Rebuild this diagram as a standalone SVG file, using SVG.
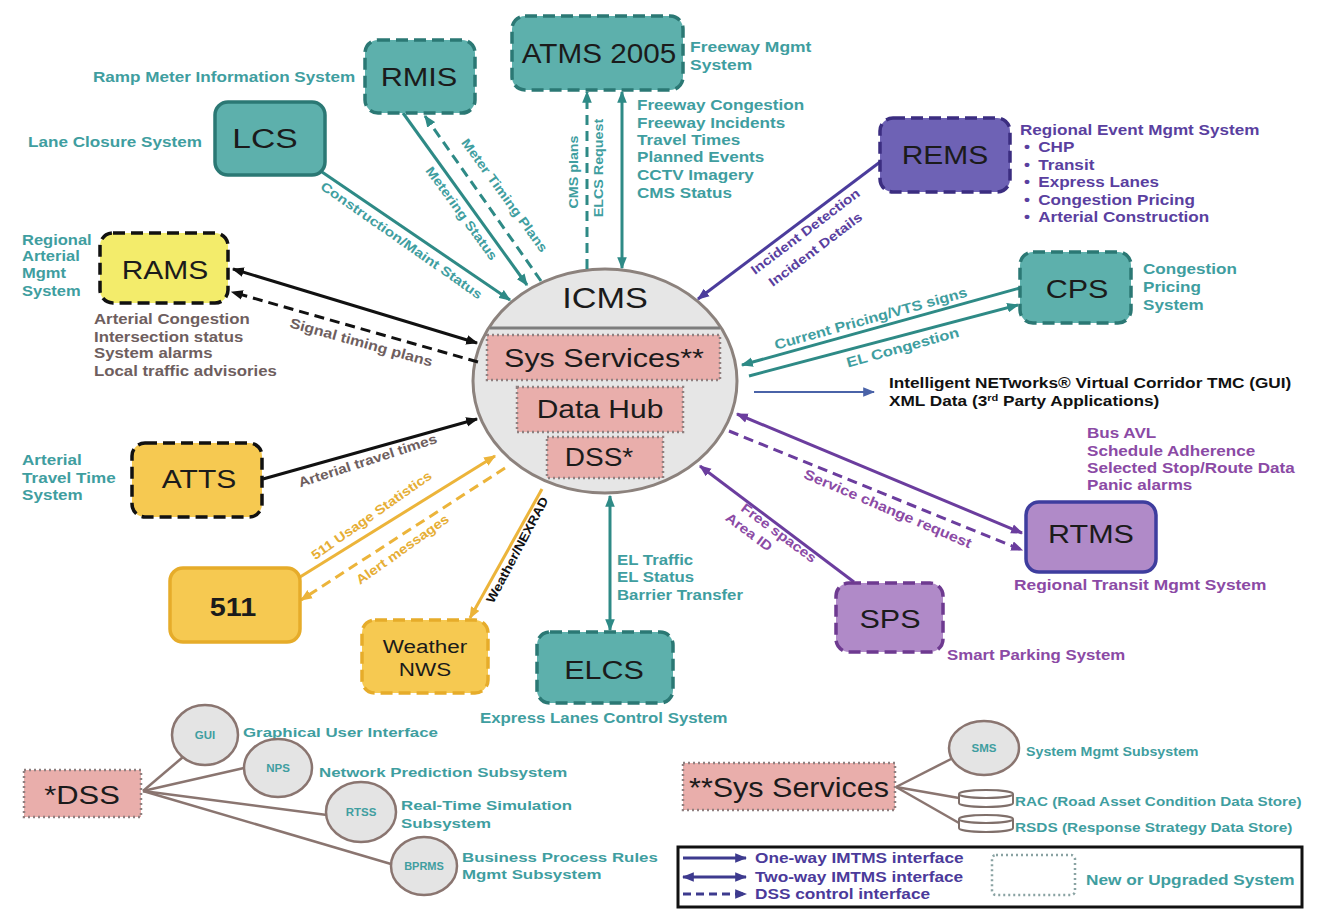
<svg xmlns="http://www.w3.org/2000/svg" width="1322" height="909" viewBox="0 0 1322 909">
  <style>
    text { font-family: "Liberation Sans", Arial, sans-serif; }
    .b { font-weight: bold; }
    .nt { fill: #1b1b1b; text-anchor: middle; }
    .teal { fill: #3f9ea0; }
    .rems { fill: #5a3f9f; }
    .vio { fill: #8b4aa5; }
    .gray { fill: #6e5e5e; }
    .ora { fill: #e6ae35; }
    .blk { fill: #111; }
    .mid { text-anchor: middle; }
    .tealbox { fill: #5db0ac; stroke: #2b7874; stroke-width: 3.5; }
    .remsbox { fill: #6e62b5; stroke: #3b2d80; stroke-width: 3.5; }
    .viobox { fill: #b08ac8; stroke-width: 3.5; }
    .ramsbox { fill: #f3ec6b; stroke: #111; stroke-width: 3.5; }
    .orabox { fill: #f6c951; stroke-width: 3.5; }
    .pink { fill: #e9aeab; stroke: #8f8080; stroke-width: 2.5; stroke-dasharray: 2 3; }
    .dash { stroke-dasharray: 12 6; }
    .sub { fill: #e4e4e4; stroke: #8a7570; stroke-width: 2.5; }
    .c { fill: none; stroke-width: 3; }
    .ct { stroke: #2e8a86; }
    .cr { stroke: #4b3c9c; }
    .cv { stroke: #6b3d9e; }
    .ck { stroke: #111; }
    .co { stroke: #ecb43a; }
    .cd { stroke-dasharray: 10 6; }
    .tree { stroke: #8a7570; stroke-width: 2.5; fill: none; }
  </style>
  <defs>
    <marker id="aT" viewBox="0 0 10 8" refX="9" refY="4" markerWidth="12" markerHeight="10" markerUnits="userSpaceOnUse" orient="auto-start-reverse"><path d="M0,0 L10,4 L0,8 z" fill="#2e8a86"/></marker>
    <marker id="aR" viewBox="0 0 10 8" refX="9" refY="4" markerWidth="12" markerHeight="10" markerUnits="userSpaceOnUse" orient="auto-start-reverse"><path d="M0,0 L10,4 L0,8 z" fill="#4b3c9c"/></marker>
    <marker id="aV" viewBox="0 0 10 8" refX="9" refY="4" markerWidth="12" markerHeight="10" markerUnits="userSpaceOnUse" orient="auto-start-reverse"><path d="M0,0 L10,4 L0,8 z" fill="#6b3d9e"/></marker>
    <marker id="aK" viewBox="0 0 10 8" refX="9" refY="4" markerWidth="12" markerHeight="10" markerUnits="userSpaceOnUse" orient="auto-start-reverse"><path d="M0,0 L10,4 L0,8 z" fill="#111"/></marker>
    <marker id="aO" viewBox="0 0 10 8" refX="9" refY="4" markerWidth="12" markerHeight="10" markerUnits="userSpaceOnUse" orient="auto-start-reverse"><path d="M0,0 L10,4 L0,8 z" fill="#ecb43a"/></marker>
    <marker id="aB" viewBox="0 0 10 8" refX="9" refY="4" markerWidth="12" markerHeight="10" markerUnits="userSpaceOnUse" orient="auto-start-reverse"><path d="M0,0 L10,4 L0,8 z" fill="#4a63a8"/></marker>
    <marker id="aL" viewBox="0 0 10 8" refX="9" refY="4" markerWidth="12" markerHeight="10" markerUnits="userSpaceOnUse" orient="auto-start-reverse"><path d="M0,0 L10,4 L0,8 z" fill="#3d3a8e"/></marker>
  </defs>

  <rect width="1322" height="909" fill="#ffffff"/>

  <!-- central hub -->
  <g id="icms">
    <ellipse cx="605" cy="381" rx="132" ry="112" fill="#e6e6e6" stroke="#8c827d" stroke-width="3"/>
    <text class="nt" font-size="29" transform="translate(605,308) scale(1.18,1)">ICMS</text>
    <line x1="490" y1="328" x2="720" y2="328" stroke="#7d7d7d" stroke-width="3"/>
    <rect class="pink" x="487" y="335" width="233" height="45"/>
    <text class="nt" font-size="25" transform="translate(604,367) scale(1.22,1)">Sys Services**</text>
    <rect class="pink" x="517" y="387" width="166" height="45"/>
    <text class="nt" font-size="25" transform="translate(600,418) scale(1.2,1)">Data Hub</text>
    <rect class="pink" x="547" y="437" width="116" height="41"/>
    <text class="nt" font-size="25" transform="translate(599,466) scale(1.12,1)">DSS*</text>
  </g>

  <!-- interfaces -->
  <g id="connectors">
    <!-- LCS -->
    <line class="c ct" x1="322" y1="172" x2="510" y2="300" marker-end="url(#aT)"/>
    <!-- RMIS -->
    <line class="c ct" x1="403" y1="113" x2="527" y2="285" marker-end="url(#aT)"/>
    <line class="c ct cd" x1="541" y1="281" x2="425" y2="116" marker-end="url(#aT)"/>
    <!-- ATMS -->
    <line class="c ct cd" x1="587" y1="269" x2="587" y2="92" marker-end="url(#aT)"/>
    <line class="c ct" x1="622" y1="268" x2="622" y2="92" marker-start="url(#aT)" marker-end="url(#aT)"/>
    <!-- REMS -->
    <line class="c cr" x1="880" y1="162" x2="698" y2="299" marker-end="url(#aR)"/>
    <!-- CPS -->
    <line class="c ct" x1="1020" y1="288" x2="742" y2="365" marker-end="url(#aT)"/>
    <line class="c ct" x1="749" y1="376" x2="1018" y2="305" marker-end="url(#aT)"/>
    <!-- virtual corridor output -->
    <line fill="none" stroke="#4a63a8" stroke-width="2" x1="754" y1="392" x2="874" y2="392" marker-end="url(#aB)"/>
    <!-- RTMS -->
    <line class="c cv" x1="737" y1="414" x2="1022" y2="533" marker-start="url(#aV)" marker-end="url(#aV)"/>
    <line class="c cv cd" x1="729" y1="431" x2="1022" y2="550" marker-end="url(#aV)"/>
    <!-- SPS -->
    <line class="c cv" x1="854" y1="582" x2="700" y2="466" marker-end="url(#aV)"/>
    <!-- ELCS -->
    <line class="c ct" x1="610" y1="496" x2="610" y2="630" marker-start="url(#aT)" marker-end="url(#aT)"/>
    <!-- Weather -->
    <line class="c co" x1="542" y1="489" x2="470" y2="618" marker-end="url(#aO)"/>
    <!-- 511 -->
    <line class="c co" x1="300" y1="577" x2="495" y2="456" marker-end="url(#aO)"/>
    <line class="c co cd" x1="505" y1="468" x2="301" y2="600" marker-end="url(#aO)"/>
    <!-- ATTS -->
    <line class="c ck" x1="263" y1="479" x2="477" y2="419" marker-end="url(#aK)"/>
    <!-- RAMS -->
    <line class="c ck" x1="233" y1="269" x2="477" y2="343" marker-start="url(#aK)" marker-end="url(#aK)"/>
    <line class="c ck cd" x1="478" y1="362" x2="232" y2="292" marker-end="url(#aK)"/>

    <!-- interface labels -->
    <text class="b teal mid" font-size="13" transform="translate(399,244) rotate(35) scale(1.2,1)">Construction/Maint Status</text>
    <text class="b teal mid" font-size="13" transform="translate(458,216) rotate(54) scale(1.15,1)">Metering Status</text>
    <text class="b teal mid" font-size="13" transform="translate(501,198) rotate(54) scale(1.15,1)">Meter Timing Plans</text>
    <text class="b teal mid" font-size="13" transform="translate(578,172) rotate(-90) scale(1.1,1)">CMS plans</text>
    <text class="b teal mid" font-size="13" transform="translate(603,168) rotate(-90) scale(1.1,1)">ELCS Request</text>
    <text class="b rems mid" font-size="13" transform="translate(808,235) rotate(-37) scale(1.18,1)">Incident Detection</text>
    <text class="b rems mid" font-size="13" transform="translate(818,253) rotate(-37) scale(1.18,1)">Incident Details</text>
    <text class="b teal mid" font-size="14" transform="translate(872,323) rotate(-15.5) scale(1.15,1)">Current Pricing/VTS signs</text>
    <text class="b teal mid" font-size="14" transform="translate(904,352) rotate(-15.5) scale(1.18,1)">EL Congestion</text>
    <text class="b vio mid" font-size="14" transform="translate(886,513) rotate(23) scale(1.15,1)">Service change request</text>
    <text class="b vio" font-size="13.5" transform="translate(743,506) rotate(36.5) scale(1.15,1)"><tspan x="0" y="5">Free spaces</tspan><tspan x="-6" y="22">Area ID</tspan></text>
    <text class="b blk mid" font-size="12.5" transform="translate(521,552) rotate(-62) scale(1.12,1)">Weather/NEXRAD</text>
    <text class="b ora mid" font-size="13" transform="translate(374,519) rotate(-35) scale(1.15,1)">511 Usage Statistics</text>
    <text class="b ora mid" font-size="13" transform="translate(405,553) rotate(-35.5) scale(1.15,1)">Alert messages</text>
    <text class="b gray mid" font-size="13.5" transform="translate(369,465) rotate(-18) scale(1.15,1)">Arterial travel times</text>
    <text class="b gray mid" font-size="14" transform="translate(360,347) rotate(15.5) scale(1.15,1)">Signal timing plans</text>
    <text class="b teal" font-size="14" transform="translate(617,565) scale(1.2,1)"><tspan x="0" y="0">EL Traffic</tspan><tspan x="0" y="17">EL Status</tspan><tspan x="0" y="35">Barrier Transfer</tspan></text>
  </g>

  <g id="rmis">
    <rect class="tealbox dash" x="365" y="40" width="110" height="73" rx="13"/>
    <text class="nt" font-size="26" transform="translate(419,86) scale(1.18,1)">RMIS</text>
    <text class="b teal" font-size="14.5" transform="translate(93,82) scale(1.18,1)">Ramp Meter Information System</text>
  </g>

  <g id="lcs">
    <rect class="tealbox" x="215" y="102" width="110" height="73" rx="13"/>
    <text class="nt" font-size="28" transform="translate(265,148) scale(1.2,1)">LCS</text>
    <text class="b teal" font-size="14.5" transform="translate(28,147) scale(1.18,1)">Lane Closure System</text>
  </g>

  <g id="atms">
    <rect class="tealbox dash" x="512" y="16" width="171" height="74" rx="13"/>
    <text class="nt" font-size="28" transform="translate(599,63) scale(1.06,1)">ATMS 2005</text>
    <text class="b teal" font-size="14" transform="translate(690,52) scale(1.25,1)"><tspan x="0" y="0">Freeway Mgmt</tspan><tspan x="0" y="18">System</tspan></text>
    <text class="b teal" font-size="14.5" transform="translate(637,110) scale(1.18,1)"><tspan x="0" y="0">Freeway Congestion</tspan><tspan x="0" y="18">Freeway Incidents</tspan><tspan x="0" y="35">Travel Times</tspan><tspan x="0" y="52">Planned Events</tspan><tspan x="0" y="70">CCTV Imagery</tspan><tspan x="0" y="88">CMS Status</tspan></text>
  </g>

  <g id="rems">
    <rect class="remsbox dash" x="880" y="118" width="130" height="74" rx="13"/>
    <text class="nt" font-size="25" transform="translate(945,164) scale(1.2,1)">REMS</text>
    <text class="b rems" font-size="14.5" transform="translate(1020,135) scale(1.18,1)">
      <tspan x="0" y="0">Regional Event Mgmt System</tspan>
      <tspan x="3.5" y="17.5">•</tspan><tspan x="15.5" y="17.5">CHP</tspan>
      <tspan x="3.5" y="35">•</tspan><tspan x="15.5" y="35">Transit</tspan>
      <tspan x="3.5" y="52.5">•</tspan><tspan x="15.5" y="52.5">Express Lanes</tspan>
      <tspan x="3.5" y="70">•</tspan><tspan x="15.5" y="70">Congestion Pricing</tspan>
      <tspan x="3.5" y="87.5">•</tspan><tspan x="15.5" y="87.5">Arterial Construction</tspan>
    </text>
  </g>

  <g id="rams">
    <rect class="ramsbox dash" x="100" y="233" width="128" height="70" rx="13"/>
    <text class="nt" font-size="25" transform="translate(165,279) scale(1.2,1)">RAMS</text>
    <text class="b teal" font-size="14" transform="translate(22,245) scale(1.18,1)"><tspan x="0" y="0">Regional</tspan><tspan x="0" y="16">Arterial</tspan><tspan x="0" y="33">Mgmt</tspan><tspan x="0" y="51">System</tspan></text>
    <text class="b gray" font-size="14" transform="translate(94,324) scale(1.2,1)"><tspan x="0" y="0">Arterial Congestion</tspan><tspan x="0" y="18">Intersection status</tspan><tspan x="0" y="34">System alarms</tspan><tspan x="0" y="52">Local traffic advisories</tspan></text>
  </g>

  <g id="cps">
    <rect class="tealbox dash" x="1020" y="252" width="111" height="71" rx="13"/>
    <text class="nt" font-size="25" transform="translate(1077,298) scale(1.22,1)">CPS</text>
    <text class="b teal" font-size="14" transform="translate(1143,274) scale(1.22,1)"><tspan x="0" y="0">Congestion</tspan><tspan x="0" y="18">Pricing</tspan><tspan x="0" y="36">System</tspan></text>
  </g>

  <g id="virtual-corridor">
    <text class="b blk" font-size="14" transform="translate(889,388) scale(1.23,1)"><tspan x="0" y="0">Intelligent NETworks® Virtual Corridor TMC (GUI)</tspan><tspan x="0" y="18">XML Data (3</tspan><tspan font-size="9" dy="-5">rd</tspan><tspan dy="5"> Party Applications)</tspan></text>
  </g>

  <g id="rtms">
    <rect class="viobox" stroke="#3e3d9e" x="1026" y="502" width="130" height="70" rx="13"/>
    <text class="nt" font-size="25" transform="translate(1091,543) scale(1.22,1)">RTMS</text>
    <text class="b vio" font-size="14" transform="translate(1087,438) scale(1.22,1)"><tspan x="0" y="0">Bus AVL</tspan><tspan x="0" y="18">Schedule Adherence</tspan><tspan x="0" y="35">Selected Stop/Route Data</tspan><tspan x="0" y="52">Panic alarms</tspan></text>
    <text class="b vio" font-size="14" transform="translate(1014,590) scale(1.24,1)">Regional Transit  Mgmt System</text>
  </g>

  <g id="sps">
    <rect class="viobox dash" stroke="#6e3a90" x="836" y="583" width="107" height="69" rx="13"/>
    <text class="nt" font-size="25" transform="translate(890,628) scale(1.22,1)">SPS</text>
    <text class="b vio" font-size="14" transform="translate(947,660) scale(1.2,1)">Smart Parking System</text>
  </g>

  <g id="elcs">
    <rect class="tealbox dash" x="537" y="632" width="136" height="71" rx="13"/>
    <text class="nt" font-size="25" transform="translate(604,679) scale(1.22,1)">ELCS</text>
    <text class="b teal" font-size="14.5" transform="translate(480,723) scale(1.16,1)">Express Lanes Control System</text>
  </g>

  <g id="weather">
    <rect class="orabox dash" stroke="#e6ac2a" x="362" y="620" width="126" height="73" rx="13"/>
    <text class="nt" font-size="19" transform="translate(425,653) scale(1.18,1)">Weather</text>
    <text class="nt" font-size="19" transform="translate(425,676) scale(1.18,1)">NWS</text>
  </g>

  <g id="n511">
    <rect class="orabox" stroke="#e6ac2a" x="170" y="568" width="130" height="74" rx="13"/>
    <text class="nt b" font-size="25" transform="translate(233,616) scale(1.15,1)">511</text>
  </g>

  <g id="atts">
    <rect class="ramsbox dash" style="fill:#f6c951" x="132" y="443" width="130" height="74" rx="13"/>
    <text class="nt" font-size="25" transform="translate(199,488) scale(1.2,1)">ATTS</text>
    <text class="b teal" font-size="14" transform="translate(22,465) scale(1.22,1)"><tspan x="0" y="0">Arterial</tspan><tspan x="0" y="18">Travel Time</tspan><tspan x="0" y="35">System</tspan></text>
  </g>

  <!-- DSS breakdown -->
  <g id="dss-tree">
    <line class="tree" x1="143" y1="791" x2="183" y2="757"/>
    <line class="tree" x1="143" y1="791" x2="244" y2="768"/>
    <line class="tree" x1="143" y1="791" x2="327" y2="815"/>
    <line class="tree" x1="143" y1="791" x2="391" y2="864"/>
    <rect class="pink" x="24" y="770" width="117" height="47"/>
    <text class="nt" font-size="26" transform="translate(82,804) scale(1.19,1)">*DSS</text>
  </g>
  <g id="gui">
    <ellipse class="sub" cx="205" cy="735" rx="33" ry="30"/>
    <text class="b teal mid" font-size="10" transform="translate(205,739) scale(1.15,1)">GUI</text>
    <text class="b teal" font-size="13.5" transform="translate(243,737) scale(1.25,1)">Graphical User Interface</text>
  </g>
  <g id="nps">
    <ellipse class="sub" cx="278" cy="768" rx="34" ry="29"/>
    <text class="b teal mid" font-size="10" transform="translate(278,772) scale(1.15,1)">NPS</text>
    <text class="b teal" font-size="13.5" transform="translate(319,777) scale(1.25,1)">Network Prediction Subsystem</text>
  </g>
  <g id="rtss">
    <ellipse class="sub" cx="361" cy="812" rx="35" ry="30"/>
    <text class="b teal mid" font-size="10" transform="translate(361,816) scale(1.15,1)">RTSS</text>
    <text class="b teal" font-size="13.5" transform="translate(401,810) scale(1.25,1)"><tspan x="0" y="0">Real-Time Simulation</tspan><tspan x="0" y="18">Subsystem</tspan></text>
  </g>
  <g id="bprms">
    <ellipse class="sub" cx="424" cy="866" rx="33" ry="29"/>
    <text class="b teal mid" font-size="10" transform="translate(424,870) scale(1.1,1)">BPRMS</text>
    <text class="b teal" font-size="13.5" transform="translate(462,862) scale(1.25,1)"><tspan x="0" y="0">Business Process Rules</tspan><tspan x="0" y="17">Mgmt Subsystem</tspan></text>
  </g>

  <!-- Sys Services breakdown -->
  <g id="sys-tree">
    <line class="tree" x1="896" y1="787" x2="953" y2="758"/>
    <line class="tree" x1="896" y1="787" x2="959" y2="798"/>
    <line class="tree" x1="896" y1="787" x2="959" y2="823"/>
    <rect class="pink" x="683" y="763" width="212" height="47"/>
    <text class="nt" font-size="28" transform="translate(789,797) scale(1.09,1)">**Sys Services</text>
  </g>
  <g id="sms">
    <ellipse class="sub" cx="984" cy="748" rx="35" ry="27"/>
    <text class="b teal mid" font-size="10" transform="translate(984,752) scale(1.15,1)">SMS</text>
    <text class="b teal" font-size="12.5" transform="translate(1026,756) scale(1.14,1)">System Mgmt Subsystem</text>
  </g>
  <g id="rac">
    <path d="M959,794 a27,4 0 0,1 54,0 v9 a27,4 0 0,1 -54,0 z" fill="#fff" stroke="#7f6f6a" stroke-width="2"/>
    <path d="M959,794 a27,4 0 0,0 54,0" fill="none" stroke="#7f6f6a" stroke-width="2"/>
    <text class="b teal" font-size="12.5" transform="translate(1015,806) scale(1.22,1)">RAC (Road Asset Condition Data Store)</text>
  </g>
  <g id="rsds">
    <path d="M959,819 a27,4 0 0,1 54,0 v9 a27,4 0 0,1 -54,0 z" fill="#fff" stroke="#7f6f6a" stroke-width="2"/>
    <path d="M959,819 a27,4 0 0,0 54,0" fill="none" stroke="#7f6f6a" stroke-width="2"/>
    <text class="b teal" font-size="12.5" transform="translate(1015,832) scale(1.23,1)">RSDS  (Response Strategy Data Store)</text>
  </g>

  <!-- key -->
  <g id="legend">
    <rect x="678" y="847" width="624" height="60" fill="#fff" stroke="#111" stroke-width="3"/>
    <line x1="683" y1="858" x2="746" y2="858" stroke="#3d3a8e" stroke-width="3" marker-end="url(#aL)"/>
    <line x1="683" y1="877" x2="746" y2="877" stroke="#3d3a8e" stroke-width="3" marker-start="url(#aL)" marker-end="url(#aL)"/>
    <line x1="683" y1="894" x2="746" y2="894" stroke="#3d3a8e" stroke-width="3" stroke-dasharray="8 5" marker-end="url(#aL)"/>
    <text class="b" fill="#4b3a9a" font-size="14" transform="translate(755,863) scale(1.23,1)"><tspan x="0" y="0">One-way IMTMS interface</tspan><tspan x="0" y="19">Two-way IMTMS interface</tspan><tspan x="0" y="36">DSS control interface</tspan></text>
    <rect x="992" y="855" width="83" height="40" rx="4" fill="#fff" stroke="#8aa3a3" stroke-width="2.5" stroke-dasharray="2 3"/>
    <text class="b teal" font-size="14" transform="translate(1086,885) scale(1.23,1)">New or Upgraded System</text>
  </g>
</svg>
